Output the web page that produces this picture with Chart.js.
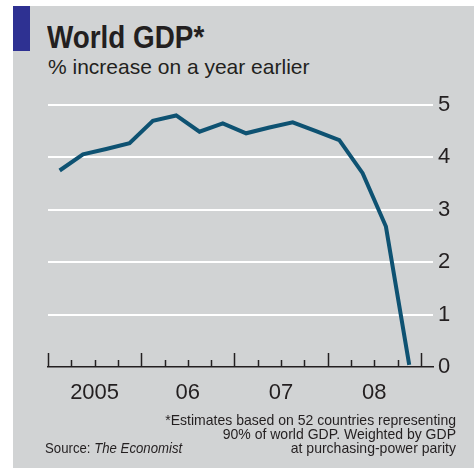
<!DOCTYPE html>
<html>
<head>
<meta charset="utf-8">
<script src="https://cdn.jsdelivr.net/npm/chart.js@4.4.1/dist/chart.umd.min.js"></script>
<style>
  html, body { margin: 0; padding: 0; background: #ffffff; }
  #wrap { position: relative; width: 474px; height: 468px; overflow: hidden; }
  #panel { position: absolute; left: 13px; top: 6px; width: 461px; height: 462px; background: #d1d3d4; }
  #bar { position: absolute; left: 13px; top: 6px; width: 17px; height: 45px; background: #2e3192; }
  #chartbox { position: absolute; left: 0; top: 0; width: 474px; height: 468px; }
  .txt { position: absolute; color: #231f20; white-space: nowrap; font-family: "Liberation Sans", "DejaVu Sans", sans-serif; }
  #title { left: 47px; top: 21px; font-size: 32px; line-height: 32px; font-weight: bold; transform: scaleX(0.87); transform-origin: left top; }
  #subtitle { left: 48px; top: 56px; font-size: 21px; line-height: 21px; }
  #note { right: 18px; top: 413px; font-size: 15px; line-height: 14px; text-align: right; transform: scaleX(0.935); transform-origin: right top; }
  #source { left: 45px; top: 441px; font-size: 15px; line-height: 14px; transform: scaleX(0.88); transform-origin: left top; }
</style>
</head>
<body>
<div id="wrap">
  <div id="panel"></div>
  <div id="bar"></div>
  <div class="txt" id="title">World GDP*</div>
  <div class="txt" id="subtitle">% increase on a year earlier</div>
  <div id="chartbox"><canvas id="c" width="474" height="468"></canvas></div>
  <div class="txt" id="note">*Estimates based on 52 countries representing<br>90% of world GDP. Weighted by GDP<br>at purchasing-power parity</div>
  <div class="txt" id="source">Source: <i>The Economist</i></div>
</div>
<script>
// Quarterly data, 2005 Q1 .. 2008 Q4
const quarters = ['2005Q1','2005Q2','2005Q3','2005Q4','2006Q1','2006Q2','2006Q3','2006Q4',
                  '2007Q1','2007Q2','2007Q3','2007Q4','2008Q1','2008Q2','2008Q3','2008Q4'];
const gdpGrowth = [3.75, 4.06, 4.16, 4.27, 4.70, 4.80, 4.49, 4.65,
                   4.46, 4.57, 4.67, 4.50, 4.33, 3.70, 2.68, 0.04];
const years = [2005, 2006, 2007, 2008];
const yearLabels = ['2005', '06', '07', '08'];
const yTicks = [0, 1, 2, 3, 4, 5];

function quarterToX(q) {
  const y = parseInt(q.slice(0, 4), 10);
  const n = parseInt(q.slice(5), 10);
  return y + (n - 0.5) / 4;
}
const points = quarters.map((q, i) => ({ x: quarterToX(q), y: gdpGrowth[i] }));

const dark = '#231f20';
const font = '"Liberation Sans", "DejaVu Sans", sans-serif';

const quarterTicks = {
  id: 'quarterTicks',
  beforeDatasetsDraw(chart) {
    const xs = chart.scales.x;
    const ctx = chart.ctx;
    const bottom = chart.chartArea.bottom;
    ctx.save();
    ctx.strokeStyle = dark;
    ctx.lineWidth = 1.5;
    const first = years[0], last = years[years.length - 1] + 1;
    for (let i = 0; i <= (last - first) * 4; i++) {
      const v = first + i / 4;
      const px = Math.round(xs.getPixelForValue(v)) + 0.5;
      const len = (i % 4 === 0) ? 14 : 7;
      ctx.beginPath();
      ctx.moveTo(px, bottom);
      ctx.lineTo(px, bottom - len);
      ctx.stroke();
    }
    ctx.restore();
  }
};

new Chart(document.getElementById('c'), {
  type: 'line',
  data: {
    datasets: [{
      data: points,
      borderColor: '#0e5272',
      borderWidth: 4,
      pointRadius: 0,
      tension: 0,
      clip: false,
      borderJoinStyle: 'miter',
      borderCapStyle: 'butt'
    }]
  },
  options: {
    responsive: false,
    animation: false,
    devicePixelRatio: 1,
    layout: { padding: { left: 48, top: 105, right: 0, bottom: 61 } },
    plugins: { legend: { display: false }, tooltip: { enabled: false } },
    scales: {
      x: {
        type: 'linear',
        position: 'bottom',
        min: 2005,
        max: 2009.13,
        afterBuildTicks(scale) {
          scale.ticks = years.map(y => ({ value: y + 0.5 }));
        },
        afterFit(scale) { scale.height = 40; },
        grid: { display: false, drawTicks: false },
        border: { display: true, color: dark, width: 1.5 },
        ticks: {
          autoSkip: false,
          maxRotation: 0,
          padding: 13,
          color: dark,
          font: { family: font, size: 22 },
          callback(value) {
            const idx = years.findIndex(y => Math.abs(y + 0.5 - value) < 1e-6);
            return idx >= 0 ? yearLabels[idx] : '';
          }
        }
      },
      y: {
        type: 'linear',
        position: 'right',
        min: 0,
        max: 5,
        afterBuildTicks(scale) {
          scale.ticks = yTicks.map(v => ({ value: v }));
        },
        afterFit(scale) { scale.width = 41; },
        border: { display: false },
        grid: {
          drawTicks: false,
          lineWidth: 2,
          color(ctx) { return ctx.tick && ctx.tick.value === 0 ? 'rgba(0,0,0,0)' : '#ffffff'; }
        },
        ticks: {
          padding: 5,
          color: dark,
          font: { family: font, size: 22 },
          callback(value) { return String(value); }
        }
      }
    }
  },
  plugins: [quarterTicks]
});
</script>
</body>
</html>
